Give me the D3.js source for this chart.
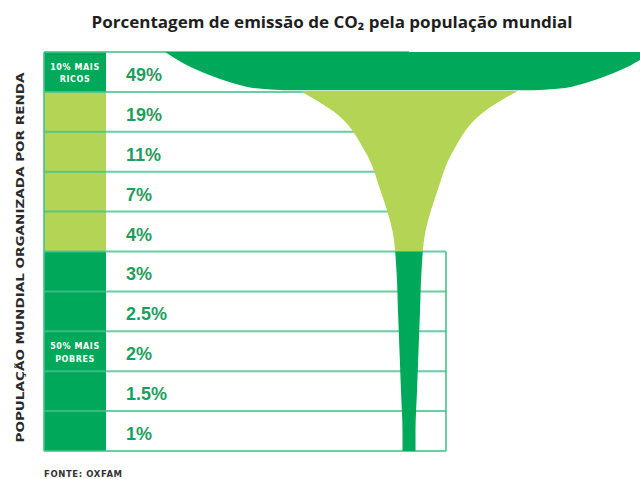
<!DOCTYPE html>
<html>
<head>
<meta charset="utf-8">
<script src="https://cdn.jsdelivr.net/npm/d3@7"></script>
<style>
  html, body { margin: 0; padding: 0; background: #fff; }
  svg { display: block; }
</style>
</head>
<body>
<svg id="chart" width="640" height="479"></svg>
<script>
// CO2 emission share by income decile (Oxfam)

const shareLabels = ["49%", "19%", "11%", "7%", "4%", "3%", "2.5%", "2%", "1.5%", "1%"];
const shareValues = [49, 19, 11, 7, 4, 3, 2.5, 2, 1.5, 1];
const groupLabels = [["10% MAIS", "RICOS"], [], ["50% MAIS", "POBRES"]];
const groupRows = [[0, 1], [1, 5], [5, 10]];

const titleText = "Porcentagem de emissão de CO₂ pela população mundial";
const axisText = "POPULAÇÃO MUNDIAL ORGANIZADA POR RENDA";
const sourceText = "FONTE: OXFAM";

const DARK = "#00a85a";
const LIGHT = "#b4d455";
const LINE = "#45c28c";
const TEXT_GREEN = "#1f9d60";

const left = 44, colRight = 106, labelX = 126, boxRight = 446, stemX = 409;

const svg = d3.select("#chart");

const n = shareValues.length;
const y = d3.scaleBand()
  .domain(d3.range(n))
  .range([52, 451])
  .paddingInner(0);
const bw = y.bandwidth();

// half-width of the funnel per emission share
const hw = d3.scaleLinear()
  .domain([1, 3, 19, 49])
  .range([6.5, 12.5, 75, 244]);

// title
svg.append("text")
  .attr("x", 332).attr("y", 28)
  .attr("text-anchor", "middle")
  .attr("font-family", "'Open Sans', sans-serif")
  .attr("font-weight", 700)
  .attr("font-size", 16)
  .attr("fill", "#1e1e1e")
  .attr("textLength", 481)
  .attr("lengthAdjust", "spacingAndGlyphs")
  .text(titleText);

// left column blocks
groupRows.forEach(([a, b], i) => {
  svg.append("rect")
    .attr("x", left).attr("y", y(a))
    .attr("width", colRight - left)
    .attr("height", y(b - 1) + bw - y(a))
    .attr("fill", i === 1 ? LIGHT : DARK);
});

// row lines
const bounds = d3.range(n + 1).map((i) => (i < n ? y(i) : y(i - 1) + bw));
svg.append("g")
  .selectAll("line")
  .data(bounds)
  .join("line")
  .attr("x1", left)
  .attr("x2", (d, i) => (i >= 5 ? boxRight : stemX))
  .attr("y1", (d) => d)
  .attr("y2", (d) => d)
  .attr("stroke", LINE)
  .attr("stroke-width", 2)
  .attr("opacity", 0.8);

// left border + box around poorer half
svg.append("line")
  .attr("x1", left).attr("x2", left)
  .attr("y1", bounds[0]).attr("y2", bounds[n])
  .attr("stroke", LINE).attr("stroke-width", 2).attr("opacity", 0.8);
svg.append("line")
  .attr("x1", boxRight).attr("x2", boxRight)
  .attr("y1", bounds[5]).attr("y2", bounds[n])
  .attr("stroke", LINE).attr("stroke-width", 2).attr("opacity", 0.8);

// top band: richest 10%, full width hw(49), rounded lower corners
const L = stemX - hw(shareValues[0]);
const R = stemX + hw(shareValues[0]);
const corner = [[0, 0], [22, 0.33], [45, 0.58], [65, 0.76], [88, 0.9], [130, 0.96]];
const bandBottom = corner.map(([dx, f]) => [L + dx, y(0) + f * bw])
  .concat(corner.slice().reverse().map(([dx, f]) => [R - dx, y(0) + f * bw]));
const band = d3.area()
  .x((d) => d[0])
  .y0(y(0))
  .y1((d) => d[1])
  .curve(d3.curveMonotoneX);
svg.append("path").datum(bandBottom).attr("d", band).attr("fill", DARK);

// funnel for the remaining deciles, through the row centres
const v1 = shareValues[1], v2 = shareValues[2];
const profile = [{ y: y(1) - 1, v: v1 + (v1 - v2) * 0.75 }];
for (let i = 1; i < n; i++) {
  profile.push({ y: y(i) + bw / 2, v: shareValues[i] });
}
profile.push({ y: y(n - 1) + bw, v: shareValues[n - 1] });

const area = d3.area()
  .y((d) => d.y)
  .x0((d) => stemX - hw(d.v))
  .x1((d) => stemX + hw(d.v))
  .curve(d3.curveMonotoneY);

const defs = svg.append("defs");
defs.append("clipPath").attr("id", "midClip")
  .append("rect")
  .attr("x", 0).attr("y", y(1) - 2)
  .attr("width", 640).attr("height", y(4) + bw - y(1) + 2);
defs.append("clipPath").attr("id", "lowClip")
  .append("rect")
  .attr("x", 0).attr("y", y(5))
  .attr("width", 640).attr("height", 479 - y(5));

svg.append("path").datum(profile).attr("d", area).attr("fill", LIGHT).attr("clip-path", "url(#midClip)");
svg.append("path").datum(profile).attr("d", area).attr("fill", DARK).attr("clip-path", "url(#lowClip)");

// share labels
svg.append("g")
  .selectAll("text")
  .data(shareLabels)
  .join("text")
  .attr("x", labelX)
  .attr("y", (d, i) => y(i) + bw / 2 + 9)
  .attr("font-family", "'Liberation Sans', Arial, sans-serif")
  .attr("font-weight", 700)
  .attr("font-size", 18)
  .attr("fill", TEXT_GREEN)
  .text((d) => d);

// group labels
groupRows.forEach(([a, b], i) => {
  const lines = groupLabels[i];
  if (!lines.length) return;
  const cy = (y(a) + y(b - 1) + bw) / 2;
  lines.forEach((t, k) => {
    svg.append("text")
      .attr("x", (left + colRight) / 2)
      .attr("y", cy + (k - (lines.length - 1) / 2) * 12.5 + 4)
      .attr("text-anchor", "middle")
      .attr("font-family", "'DejaVu Sans', sans-serif")
      .attr("font-weight", 700)
      .attr("font-size", 8)
      .attr("letter-spacing", 0.6)
      .attr("fill", "#fff")
      .text(t);
  });
});

// vertical axis title
svg.append("text")
  .attr("transform", `translate(24,${(bounds[0] + bounds[n]) / 2 + 6}) rotate(-90)`)
  .attr("text-anchor", "middle")
  .attr("font-family", "'DejaVu Sans', sans-serif")
  .attr("font-weight", 700)
  .attr("font-size", 10)
  .attr("fill", "#2a2a2a")
  .attr("textLength", 370)
  .attr("lengthAdjust", "spacingAndGlyphs")
  .text(axisText);

// source
svg.append("text")
  .attr("x", left).attr("y", 477)
  .attr("font-family", "'DejaVu Sans', sans-serif")
  .attr("font-weight", 700)
  .attr("font-size", 8.5)
  .attr("letter-spacing", 0.6)
  .attr("fill", "#333")
  .text(sourceText);
</script>
</body>
</html>
